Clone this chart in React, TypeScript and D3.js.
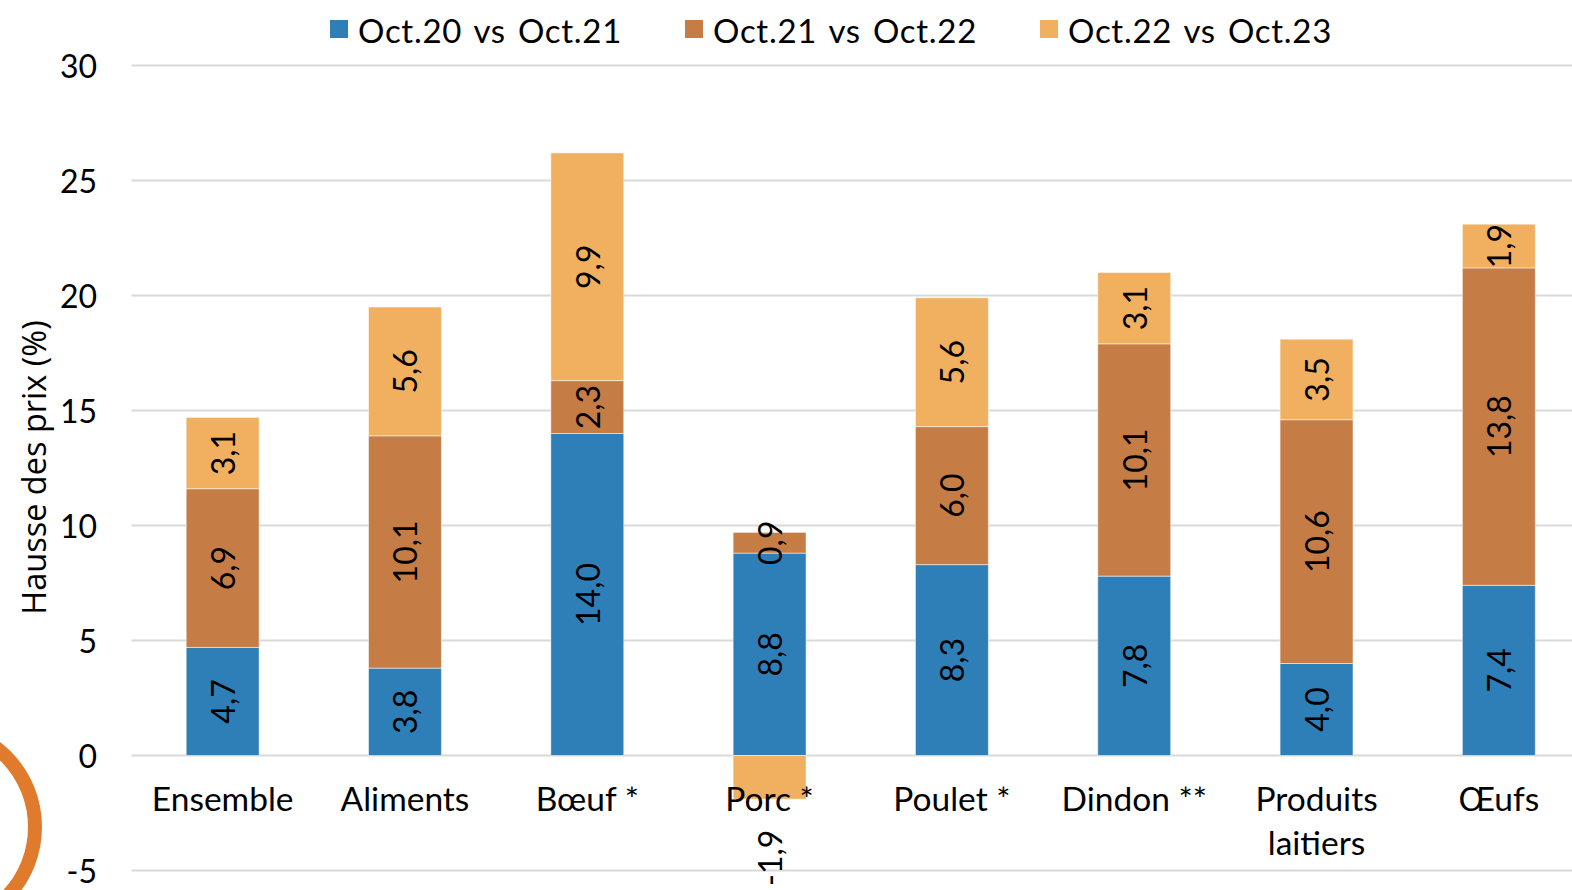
import * as d3 from 'd3';

const CATEGORIES = ['Ensemble', 'Aliments', 'Bœuf *', 'Porc *', 'Poulet *', 'Dindon **', 'Produits\nlaitiers', 'Œufs'];
const SERIES = ['Oct.20 vs Oct.21', 'Oct.21 vs Oct.22', 'Oct.22 vs Oct.23'];
const OCT20_21 = [4.7, 3.8, 14.0, 8.8, 8.3, 7.8, 4.0, 7.4];
const OCT21_22 = [6.9, 10.1, 2.3, 0.9, 6.0, 10.1, 10.6, 13.8];
const OCT22_23 = [3.1, 5.6, 9.9, -1.9, 5.6, 3.1, 3.5, 1.9];
const Y_TICKS = [-5, 0, 5, 10, 15, 20, 25, 30];

const COLORS = ['#2E7FB8', '#C57D45', '#F0B060'];
const W = 1572;
const H = 890;
const FONT = 'Lato, "Open Sans", sans-serif';

export default function App() {
  const x = d3.scaleBand<string>().domain(CATEGORIES).range([131.5, 1590]).paddingInner(0.6).paddingOuter(0.3);
  const y = d3.scaleLinear().domain([-5, 30]).range([870.5, 65.5]);
  const fmt = (v: number) => d3.format('.1f')(v).replace('.', ',').replace('\u2212', '-');

  const rows = CATEGORIES.map((c, i) => ({ c, vals: [OCT20_21[i], OCT21_22[i], OCT22_23[i]] }));

  // stacked segments, positives stacked up from zero, negatives down from zero
  const segs: { c: string; s: number; y0: number; y1: number; v: number }[] = [];
  rows.forEach(r => {
    let pos = 0;
    let neg = 0;
    r.vals.forEach((v, s) => {
      if (v >= 0) {
        segs.push({ c: r.c, s, y0: pos, y1: pos + v, v });
        pos += v;
      } else {
        segs.push({ c: r.c, s, y0: neg + v, y1: neg, v });
        neg += v;
      }
    });
  });

  const legendX = [330, 685, 1040];

  return (
    <svg width={W} height={H} style={{ position: 'absolute', left: 0, top: 0, background: '#fff' }} fontFamily={FONT}>
      <rect width={W} height={H} fill="#fff" />

      {/* gridlines + y ticks */}
      {Y_TICKS.map(t => (
        <g key={t}>
          <line x1={131.5} x2={W} y1={y(t)} y2={y(t)} stroke="#d9d9d9" strokeWidth={2} />
          <text x={97} y={y(t)} textAnchor="end" dominantBaseline="central" fontSize={32} fill="#000">{t}</text>
        </g>
      ))}

      {/* logo ring */}
      <circle cx={-65} cy={827} r={100} fill="none" stroke="#E07B2E" strokeWidth={14} />

      {/* bars */}
      {segs.map((d, i) => (
        <rect key={i} x={x(d.c)} y={y(d.y1)} width={x.bandwidth()} height={y(d.y0) - y(d.y1)}
          fill={COLORS[d.s]} stroke="#fff" strokeOpacity={0.5} strokeWidth={1} />
      ))}

      {/* category labels */}
      {CATEGORIES.map(c => {
        const cx = (x(c) ?? 0) + x.bandwidth() / 2;
        return (
          <text key={c} x={cx} y={811} textAnchor="middle" fontSize={33.5} fill="#000">
            {c.split('\n').map((line, j) => (
              <tspan key={j} x={cx} dy={j === 0 ? 0 : 44}>{line}</tspan>
            ))}
          </text>
        );
      })}

      {/* value labels */}
      {segs.map((d, i) => {
        const cx = (x(d.c) ?? 0) + x.bandwidth() / 2;
        const cy = d.v < 0 ? y(-4.45) : y((d.y0 + d.y1) / 2);
        return (
          <text key={i} transform={`translate(${cx},${cy}) rotate(-90)`} textAnchor="middle"
            dominantBaseline="central" fontSize={32} fill="#000">{fmt(d.v)}</text>
        );
      })}

      {/* y axis title */}
      <text transform={`translate(33,${(320 + 615) / 2}) rotate(-90)`} textAnchor="middle" dominantBaseline="central"
        fontSize={32.5} fontFamily='"Open Sans", sans-serif' fill="#000">Hausse des prix (%)</text>

      {/* legend */}
      {SERIES.map((s, i) => (
        <g key={s}>
          <rect x={legendX[i]} y={20} width={18} height={18} fill={COLORS[i]} />
          <text x={legendX[i] + 28} y={30} dominantBaseline="central" fontSize={33} letterSpacing={0.7}
            wordSpacing={3} fill="#000">{s}</text>
        </g>
      ))}
    </svg>
  );
}
